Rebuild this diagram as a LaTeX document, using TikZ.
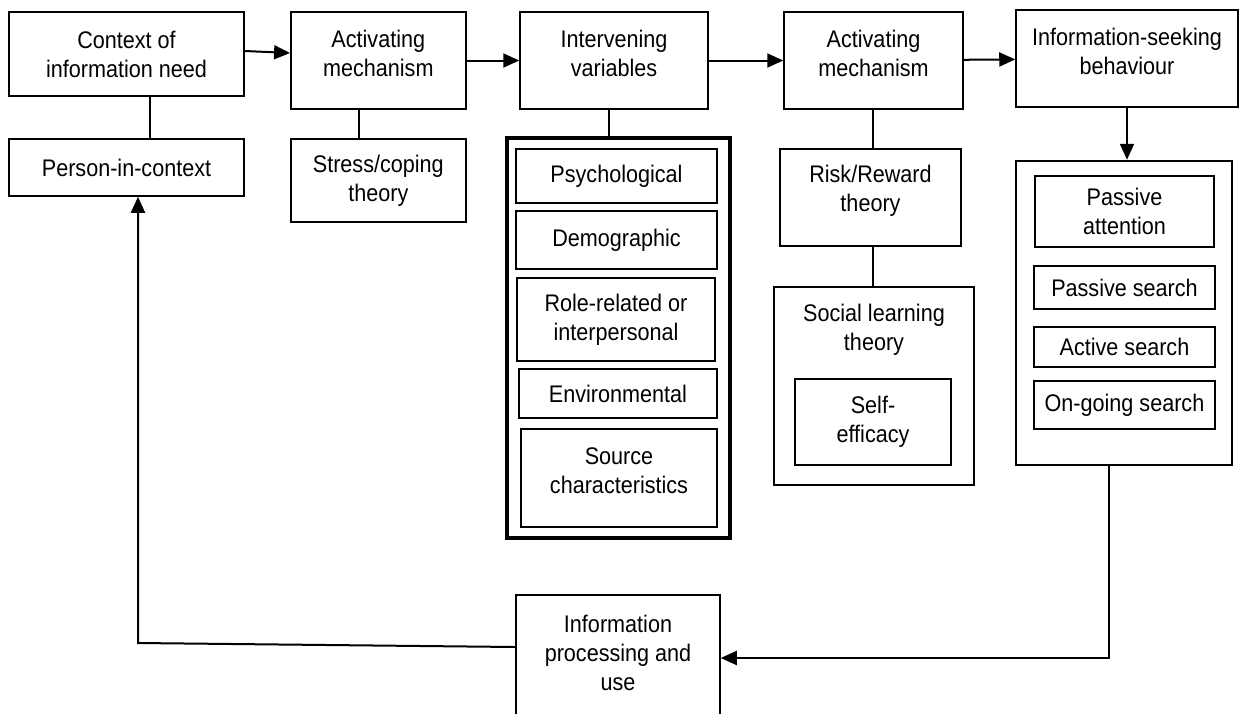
\documentclass[tikz,border=0pt]{standalone}
\usepackage{fontspec}
\setmainfont{Liberation Sans}[FakeStretch=0.9]
\usetikzlibrary{arrows.meta}
\usetikzlibrary{positioning}

\begin{document}
\begin{tikzpicture}[x=1pt, y=-1pt,
  box/.style={draw, line width=1.5pt, inner sep=0pt, align=center, font=\fontsize{24}{29}\selectfont},
  panel/.style={draw, line width=#1, inner sep=0pt},
  lift/.style={text depth=#1},
  link/.style={line width=2pt},
  arr/.style={line width=2pt, -{Triangle[length=16pt,width=14pt]}}]

  \useasboundingbox (0,0) rectangle (1240,713);

  \node[box, minimum width=235pt, minimum height=84pt] (ctx) at (126.5,54) {Context of\\information need};
  \node[box, minimum width=235pt, minimum height=57pt] (pic) at (126.5,167.5) {Person-in-context};

  \node[box, lift=14pt, minimum width=175pt, minimum height=97pt] (act1) at (378.3,60.5) {Activating\\mechanism};
  \node[box, minimum width=175pt, minimum height=83pt] (stc) at (378.3,180.5) {Stress/coping\\theory};

  \node[box, lift=14pt, minimum width=188pt, minimum height=97pt] (ivar) at (614,60.5) {Intervening\\variables};
  \node[panel=4pt, minimum width=223pt, minimum height=400pt] (ivf) at (618.5,338) {};
  \node[box, minimum width=201pt, minimum height=54pt] (psy) at (616.5,176) {Psychological};
  \node[box, minimum width=201pt, minimum height=58pt] (dem) at (616.5,240) {Demographic};
  \node[box, minimum width=198pt, minimum height=83pt] (rol) at (616,319.5) {Role-related or\\interpersonal};
  \node[box, minimum width=198pt, minimum height=49pt] (env) at (618,393.5) {Environmental};
  \node[box, lift=14pt, minimum width=196pt, minimum height=98pt] (src) at (619,478) {Source\\characteristics};

  \node[box, lift=14pt, minimum width=179pt, minimum height=97pt] (act2) at (873.5,60.5) {Activating\\mechanism};
  \node[box, lift=19pt, minimum width=181pt, minimum height=97pt] (rrt) at (870.5,197.5) {Risk/Reward\\theory};
  \node[panel=2.5pt, minimum width=200pt, minimum height=198pt] (slf) at (874,386) {};
  \node[box, draw=none] (slt) at (874,330) {Social learning\\theory};
  \node[box, minimum width=156pt, minimum height=86pt] (sef) at (873,422) {Self-\\efficacy};

  \node[box, lift=14pt, minimum width=222pt, minimum height=97pt] (isb) at (1127,58.5) {Information-seeking\\behaviour};
  \node[panel=2.5pt, minimum width=216pt, minimum height=304pt] (isf) at (1124,313) {};
  \node[box, minimum width=179pt, minimum height=71pt] (pat) at (1124.5,211.5) {Passive\\attention};
  \node[box, minimum width=181pt, minimum height=43pt] (pse) at (1124.5,287.5) {Passive search};
  \node[box, minimum width=181pt, minimum height=40pt] (ase) at (1124.5,347) {Active search};
  \node[box, minimum width=181pt, minimum height=48pt] (ogs) at (1124.5,405) {On-going search};

  \node[box, lift=10pt, minimum width=204pt, minimum height=126pt] (ipu) at (618,658) {Information\\processing and\\use};

  \draw[arr] (ctx.east |- 0,51) -- (act1.west |- 0,53);
  \draw[arr] (act1) -- (ivar);
  \draw[arr] (ivar) -- (act2);
  \draw[arr] (act2) -- (isb);
  \draw[link] (ctx.south -| 150,0) -- (pic.north -| 150,0);
  \draw[link] (act1.south -| 359,0) -- (stc.north -| 359,0);
  \draw[link] (ivar.south -| 609,0) -- (ivf.north -| 609,0);
  \draw[link] (act2.south -| 873,0) -- (rrt.north -| 873,0);
  \draw[link] (rrt.south -| 873,0) -- (slf.north -| 873,0);
  \draw[arr] (isb.south) -- (isb.south |- isf.north);
  \draw[arr] (isf.south -| 1109,0) |- (ipu.east);
  \draw[arr] (ipu.west |- 0,647) -- (138,643) -- (pic.south -| 138,0);
\end{tikzpicture}
\end{document}
